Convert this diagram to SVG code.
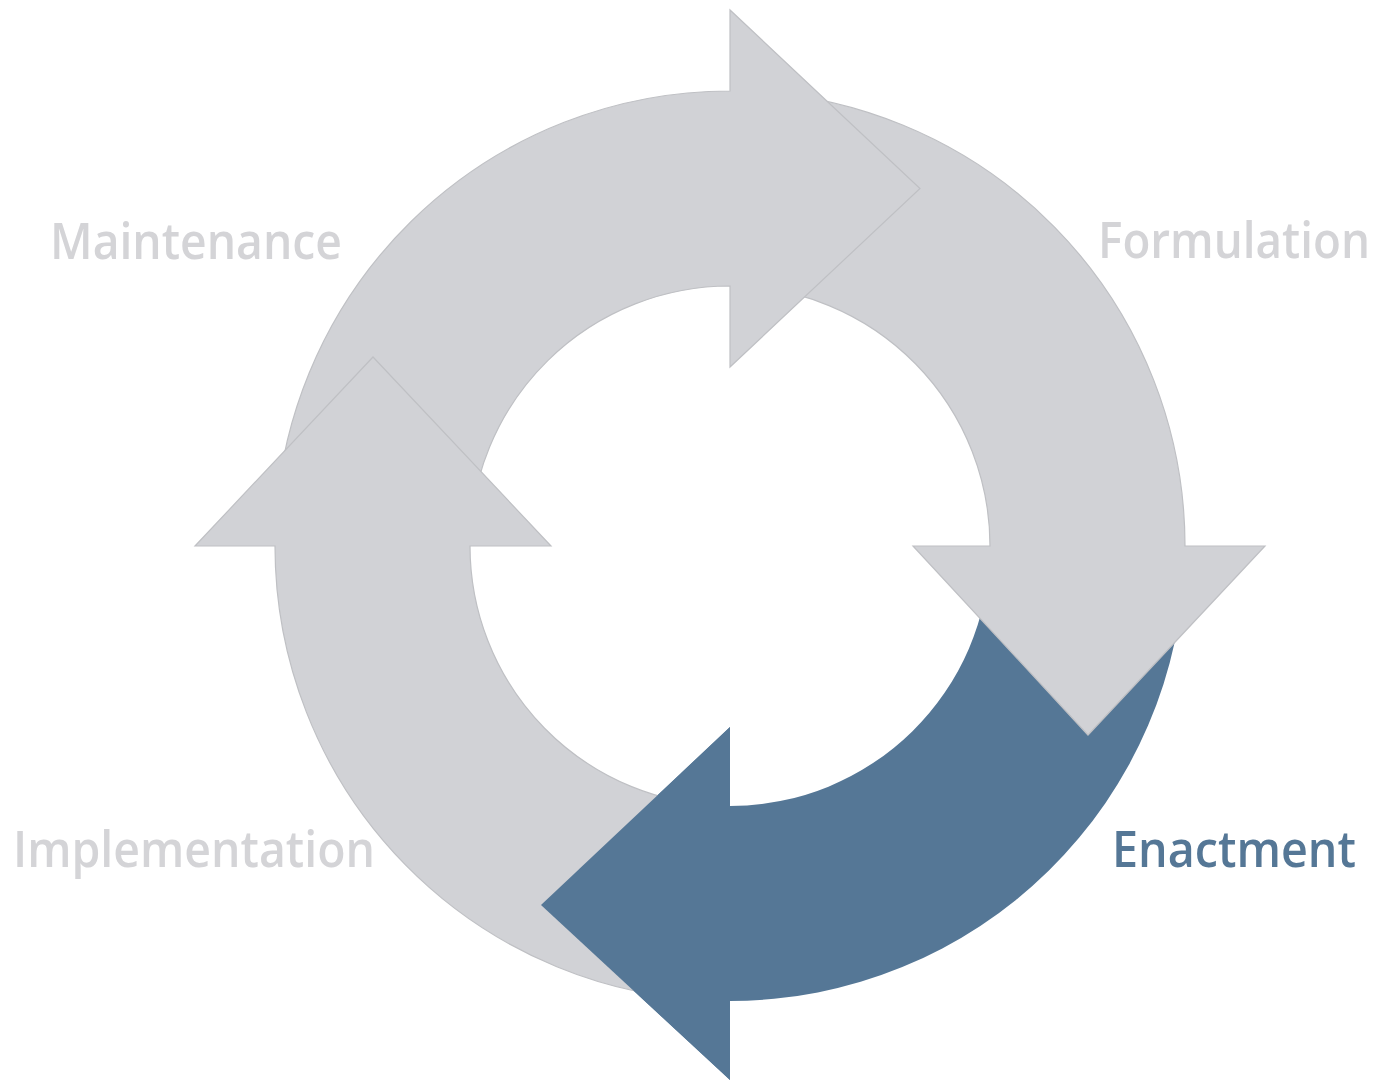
<svg xmlns="http://www.w3.org/2000/svg" width="1382" height="1081" viewBox="0 0 1382 1081">
<style>
.g{fill:#d1d2d6;stroke:#bfc0c4;stroke-width:1.2;stroke-linejoin:miter}
.b{fill:#557796;stroke:none}
.lbl{font-family:"Open Sans","DejaVu Sans",sans-serif;font-weight:600;font-size:51px}
.lg{fill:#d4d4d7}
.lb{fill:#557796}
</style>
<rect width="1382" height="1081" fill="#ffffff"/>
<g id="enactment-arrow">
<path class="b" d="M1184.93 553.94 A455 455 0 0 1 730 1001 L730 1080 L541 905 L730 727 L730 806 A260 260 0 0 0 989.96 550.54 Z"/>
</g>
<g id="formulation-arrow">
<path class="g" d="M737.94 91.07 A455 455 0 0 1 1185 546 L1265 546 L1088 735 L913 546 L990 546 A260 260 0 0 0 734.54 286.04 Z"/>
</g>
<g id="maintenance-arrow">
<path class="g" d="M275.07 538.06 A455 455 0 0 1 730 91 L730 10 L920 188.5 L730 367 L730 286 A260 260 0 0 0 470.04 541.46 Z"/>
</g>
<g id="implementation-arrow">
<path class="g" d="M722.06 1000.93 A455 455 0 0 1 275 546 L195 546 L373 357 L551 546 L470 546 A260 260 0 0 0 725.46 805.96 Z"/>
</g>
<g id="enactment-head">
<path class="b" d="M730 727 L541 905 L730 1080 Z"/>
</g>
<g id="labels">
<text id="maintenance" class="lbl lg" x="50" y="259" textLength="292" lengthAdjust="spacingAndGlyphs">Maintenance</text>
<text id="formulation" class="lbl lg" x="1098" y="258" textLength="272" lengthAdjust="spacingAndGlyphs">Formulation</text>
<text id="implementation" class="lbl lg" x="13" y="867" textLength="362" lengthAdjust="spacingAndGlyphs">Implementation</text>
<text id="enactment" class="lbl lb" x="1112" y="867" textLength="244" lengthAdjust="spacingAndGlyphs">Enactment</text>
</g>
</svg>
